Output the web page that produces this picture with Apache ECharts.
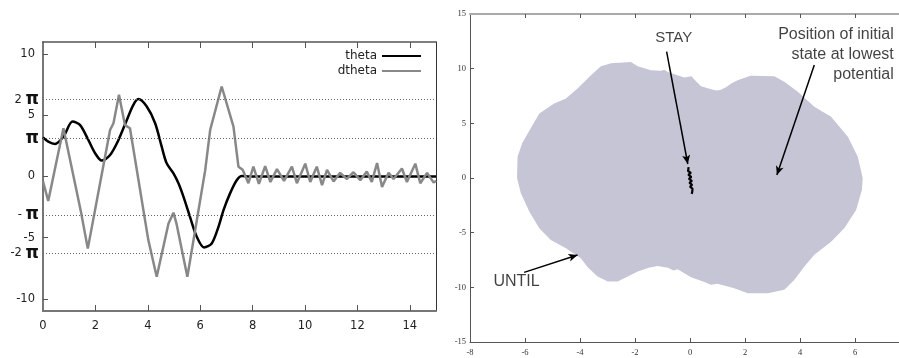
<!DOCTYPE html>
<html><head><meta charset="utf-8">
<script src="https://cdn.jsdelivr.net/npm/echarts@6/dist/echarts.min.js"></script>
<style>html,body{margin:0;padding:0;background:#fff}#c{width:899px;height:358px}</style>
</head><body><div id="c"></div>
<script>
// ---------- Left panel data ----------
const thetaX = [0, 0.2, 0.46, 0.78, 1.13, 1.41, 1.73, 1.99, 2.24, 2.56, 2.88, 3.2, 3.45, 3.64, 3.96, 4.28, 4.53, 4.72, 4.98, 5.17, 5.36, 5.61, 5.87, 6.15, 6.44, 6.7, 6.89, 7.14, 7.4, 7.59, 7.9, 8.5, 9.5, 10.5, 11.5, 12.5, 13.5, 14.5, 15];
const thetaY = [3.2, 2.85, 2.66, 3.26, 4.49, 4.22, 2.99, 1.9, 1.3, 1.76, 2.99, 4.63, 5.86, 6.33, 5.72, 4.36, 2.44, 1.08, 0.26, -0.56, -1.65, -3.3, -4.93, -5.8, -5.48, -4.1, -2.75, -1.38, -0.29, 0.04, 0, 0, 0, 0, 0, 0, 0, 0, 0];
const dthetaX = [0, 0.2, 0.78, 1.45, 1.71, 2.56, 2.69, 2.9, 3.13, 3.32, 4.02, 4.34, 4.79, 4.86, 4.98, 5.1, 5.51, 6.19, 6.38, 6.82, 7.27, 7.46, 7.62, 7.84, 8.03, 8.24, 8.48, 8.68, 8.93, 9.2, 9.5, 9.69, 10.01, 10.2, 10.45, 10.65, 10.84, 11.09, 11.34, 11.6, 11.85, 12.11, 12.36, 12.55, 12.75, 12.94, 13.19, 13.38, 13.7, 13.89, 14.21, 14.4, 14.66, 14.91, 15.0];
const dthetaY = [-0.4, -2.0, 3.95, -2.9, -5.9, 3.8, 4.36, 6.68, 4.2, 3.95, -5.2, -8.2, -3.84, -3.75, -2.96, -3.9, -8.2, 0.5, 3.8, 7.36, 4.08, 0.8, 0.55, -0.55, 0.8, -0.6, 0.85, -0.45, 0.6, -0.35, 0.8, -0.55, 1.05, -0.45, 0.8, -0.7, 0.55, -0.4, 0.3, -0.2, 0.35, -0.3, 0.4, -0.45, 1.1, -0.85, 0.3, -0.2, 0.65, -0.45, 1.05, -0.55, 0.3, -0.5, -0.35];
const leftXLabels = [0, 2, 4, 6, 8, 10, 12, 14];
const leftXTicks = [2, 4, 6, 8, 10, 12, 14];
const leftYTicks = [-10, -5, 0, 5, 10];
const piValues = [-2 * Math.PI, -Math.PI, Math.PI, 2 * Math.PI];
const piLabels = ['-2 π', '- π', 'π', '2 π'];
const seriesNames = ['theta', 'dtheta'];

// ---------- Right panel data ----------
const rightXLabels = [-8, -6, -4, -2, 0, 2, 4, 6];
const rightXTicks = [-6, -4, -2, 0, 2, 4, 6];
const rightYLabels = [-15, -10, -5, 0, 5, 10, 15];
const rightYTicks = [-10, -5, 0, 5, 10];
const regionX = [-6.29, -6.27, -6.1, -5.9, -5.48, -4.94, -4.51, -4.09, -3.6, -3.24, -2.87, -2.15, -1.9, -1.42, -1.05, -0.93, -0.81, -0.21, 0.05, 0.2, 0.4, 0.64, 0.95, 1.1, 1.31, 1.5, 1.73, 2.2, 3.07, 3.43, 3.92, 4.52, 5.13, 5.74, 6.1, 6.28,
  6.25, 6.04, 5.61, 5.13, 4.52, 4.16, 3.79, 3.43, 2.83, 2.1, 1.61, 1.0, 0.76, 0.5, 0.04, -0.45, -0.6, -0.8, -1.18, -1.5, -1.9, -2.63, -2.99, -3.36, -3.72, -3.97, -4.51, -5.06, -5.48, -5.84, -6.15];
const regionY = [0, 1.95, 3.2, 4.08, 5.9, 6.82, 7.28, 8.19, 9.4, 10.23, 10.5, 10.6, 10.23, 9.86, 9.8, 9.9, 9.7, 9.2, 9.3, 8.9, 8.4, 8.2, 8.0, 8.05, 8.3, 8.65, 8.95, 9.35, 9.31, 8.8, 7.88, 6.51, 5.6, 3.77, 1.95, 0,
  -1.1, -2.92, -4.6, -5.82, -7.03, -8.1, -9.32, -10.23, -10.53, -10.53, -10.08, -9.68, -9.77, -9.5, -9.07, -8.34, -8.45, -8.2, -8.04, -8.2, -8.55, -9.47, -9.47, -9.01, -8.16, -7.33, -6.42, -5.66, -4.6, -3.08, -1.4];
const stayX = [-0.05, 0.02, -0.07, 0.03, -0.06, 0.05, -0.04, 0.07, -0.02, 0.08, 0.0, 0.09, 0.02, 0.08, 0.06];
const stayY = [1.0, 0.82, 0.64, 0.46, 0.28, 0.1, -0.08, -0.26, -0.44, -0.62, -0.8, -0.98, -1.15, -1.3, -1.45];
const arrowFrom = [[-0.85, 11.55], [4.52, 10.34], [-6.03, -8.63]];
const arrowTo = [[-0.08, 1.28], [3.16, 0.27], [-4.09, -7.04]];
const noteX = [-0.59, 7.41, -7.15];
const noteY = [12.8, 11.31, -9.49];
const noteText = ['STAY', 'Position of initial\nstate at lowest\npotential', 'UNTIL'];

const zip = (a, b) => a.map((v, i) => [v, b[i]]);
const sans = 'DejaVu Sans';
const serif = 'Liberation Serif';
const noteAlign = ['center', 'right', 'left'];
const noteSize = [15, 16, 16];

const chart = echarts.init(document.getElementById('c'), null, {renderer: 'canvas'});
chart.setOption({
  animation: false,
  backgroundColor: '#fff',
  grid: [
    {left: 43, top: 42, width: 393, height: 269},
    {left: 470, top: 14, width: 429, height: 328}
  ],
  legend: {
    data: seriesNames, orient: 'vertical', right: 477, top: 50, align: 'right', padding: 0,
    itemWidth: 39, itemHeight: 14, itemGap: 3, selectedMode: false,
    itemStyle: {opacity: 0, borderWidth: 0},
    textStyle: {fontFamily: sans, fontSize: 12, color: '#222'}
  },
  xAxis: [
    {gridIndex: 0, type: 'value', min: 0, max: 15, position: 'bottom',
      axisLine: {onZero: false, lineStyle: {color: '#777', width: 2}},
      axisTick: {inside: true, length: 6, customValues: leftXTicks, lineStyle: {color: '#555'}},
      axisLabel: {customValues: leftXLabels, margin: 9, fontFamily: sans, fontSize: 11.5, color: '#222'},
      splitLine: {show: false}},
    {gridIndex: 0, type: 'value', min: 0, max: 15, position: 'top',
      axisLine: {onZero: false, lineStyle: {color: '#555', width: 1.5}},
      axisTick: {inside: true, length: 6, customValues: leftXTicks, lineStyle: {color: '#555'}},
      axisLabel: {show: false}, splitLine: {show: false}},
    {gridIndex: 1, type: 'value', min: -8, max: 7.6, position: 'bottom',
      axisLine: {onZero: false, lineStyle: {color: '#555', width: 1}},
      axisTick: {inside: true, length: 4, customValues: rightXTicks, lineStyle: {color: '#555'}},
      axisLabel: {customValues: rightXLabels, margin: 6, fontFamily: serif, fontSize: 8.5, color: '#333'},
      splitLine: {show: false}},
    {gridIndex: 1, type: 'value', min: -8, max: 7.6, position: 'top',
      axisLine: {onZero: false, lineStyle: {color: '#aaa', width: 2}},
      axisTick: {inside: true, length: 4, customValues: rightXTicks, lineStyle: {color: '#555'}},
      axisLabel: {show: false}, splitLine: {show: false}}
  ],
  yAxis: [
    {gridIndex: 0, type: 'value', min: -11, max: 11, position: 'left',
      axisLine: {onZero: false, lineStyle: {color: '#777', width: 2}},
      axisTick: {inside: true, length: 5, customValues: leftYTicks, lineStyle: {color: '#555'}},
      axisLabel: {customValues: leftYTicks, margin: 8, fontFamily: sans, fontSize: 11.5, color: '#222'},
      splitLine: {show: false}},
    {gridIndex: 0, type: 'value', min: -11, max: 11, position: 'right',
      axisLine: {onZero: false, lineStyle: {color: '#333', width: 1}},
      axisTick: {show: false}, axisLabel: {show: false}, splitLine: {show: false}},
    {gridIndex: 1, type: 'value', min: -15, max: 15, position: 'left',
      axisLine: {onZero: false, lineStyle: {color: '#555', width: 1}},
      axisTick: {inside: true, length: 4, customValues: rightYTicks, lineStyle: {color: '#555'}},
      axisLabel: {customValues: rightYLabels, margin: 4, fontFamily: serif, fontSize: 8.5, color: '#333'},
      splitLine: {show: false}}
  ],
  series: [
    {name: seriesNames[0], type: 'line', xAxisIndex: 0, yAxisIndex: 0, data: zip(thetaX, thetaY),
      smooth: 0.3, symbol: 'none', z: 3,
      itemStyle: {color: '#000'}, lineStyle: {color: '#000', width: 2.5},
      markLine: {
        silent: true, symbol: 'none',
        lineStyle: {type: [1, 2], color: '#666', width: 1},
        label: {position: 'start', distance: 4,
          formatter: p => {
            const s = p.name; const i = s.indexOf('π'); const pre = s.slice(0, i);
            return (pre ? '{n|' + pre + '}' : '') + '{p|π}';
          },
          rich: {
            n: {fontFamily: sans, fontSize: 11.5, color: '#222'},
            p: {fontFamily: sans, fontSize: 17, fontWeight: 'bold', color: '#111'}
          }},
        data: piValues.map((v, i) => ({yAxis: v, name: piLabels[i]}))
      }},
    {name: seriesNames[1], type: 'line', xAxisIndex: 0, yAxisIndex: 0, data: zip(dthetaX, dthetaY),
      symbol: 'none', z: 4,
      itemStyle: {color: '#888'}, lineStyle: {color: '#888', width: 2.5}},
    {name: 'region', type: 'custom', xAxisIndex: 2, yAxisIndex: 2, data: [[0, 0]], clip: true, z: 1,
      renderItem: (params, api) => ({
        type: 'polygon',
        shape: {points: regionX.map((x, i) => api.coord([x, regionY[i]]))},
        style: {fill: '#c5c5d5'}
      })},
    {name: 'stay', type: 'line', xAxisIndex: 2, yAxisIndex: 2, data: zip(stayX, stayY),
      symbol: 'none', z: 5, lineStyle: {color: '#000', width: 2.2},
      markLine: {
        silent: true, symbol: ['none', 'arrow'], symbolSize: [6, 9],
        lineStyle: {type: 'solid', color: '#000', width: 1.5},
        label: {show: false},
        data: arrowFrom.map((a, i) => [{coord: a}, {coord: arrowTo[i]}])
      }},
    {name: 'notes', type: 'scatter', xAxisIndex: 2, yAxisIndex: 2, symbolSize: 1, z: 6,
      itemStyle: {color: 'rgba(0,0,0,0)'}, silent: true,
      data: noteText.map((t, i) => ({
        value: [noteX[i], noteY[i]],
        label: {show: true, position: 'inside', formatter: t, align: noteAlign[i], verticalAlign: 'middle',
          fontFamily: 'Liberation Sans', fontSize: noteSize[i], lineHeight: 20, color: '#111'}
      }))}
  ]
});
</script>
</body></html>
